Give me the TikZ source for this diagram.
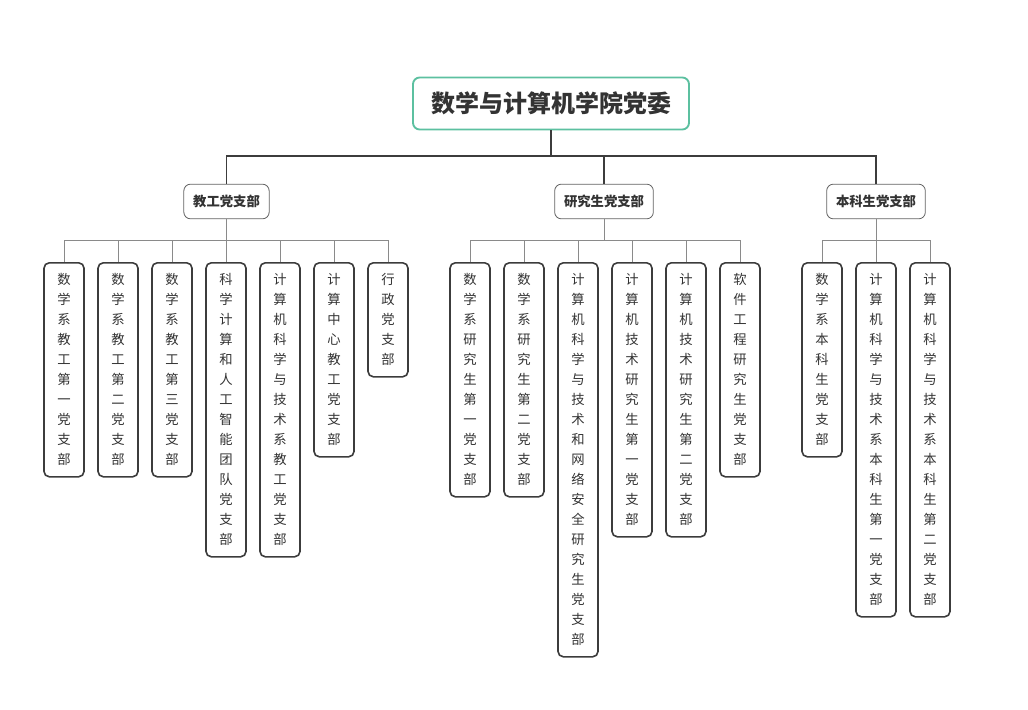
\documentclass[tikz,border=0pt]{standalone}
\usepackage{fontspec}
\newfontfamily\cjk{Noto Sans CJK SC}
\definecolor{txt}{HTML}{333333}
\definecolor{bd}{HTML}{3C3C3C}
\definecolor{grn}{HTML}{5CC0A0}
\definecolor{thin}{HTML}{8A8A8A}
\begin{document}
\begin{tikzpicture}[x=0.75pt,y=-0.75pt,
 root/.style={draw=grn,line width=1.4pt,rounded corners=5pt,fill=white,text=txt,font=\cjk\fontsize{18}{20}\selectfont\bfseries,minimum width=207pt,minimum height=39pt},
 mid/.style={draw=bd!80,line width=0.6pt,rounded corners=5pt,fill=white,text=txt,font=\cjk\fontsize{10}{12}\selectfont\bfseries,minimum height=26pt,inner xsep=7pt},
 leaf/.style={draw=bd,line width=1.2pt,rounded corners=4pt,fill=white,text=txt,font=\cjk\fontsize{10}{15}\selectfont,align=center,minimum width=30pt,inner xsep=2pt,anchor=north},
 big/.style={draw=bd,line width=1.3pt},
 sm/.style={draw=thin,line width=0.6pt}]
\useasboundingbox (0,0) rectangle (1028,710);
\node[root] (r) at (551,103.5) {数学与计算机学院党委};
\node[mid] (a) at (226.5,201.5) {教工党支部};
\node[mid] (b) at (604,201.5) {研究生党支部};
\node[mid] (c) at (876,201.5) {本科生党支部};
\coordinate (rj) at (551,156);
\draw[big] (r.south) -- (rj) (a.north) |- (rj) (c.north) |- (rj) (b.north) |- (rj);
% leaves
\newcommand\lf[4]{\node[leaf,minimum height={(#3-262)*0.75pt}] (#1) at (#2,262) {#4};}
\lf{a1}{64}{476}{数\\学\\系\\教\\工\\第\\一\\党\\支\\部}
\lf{a2}{118}{476}{数\\学\\系\\教\\工\\第\\二\\党\\支\\部}
\lf{a3}{172}{476}{数\\学\\系\\教\\工\\第\\三\\党\\支\\部}
\lf{a4}{226}{556}{科\\学\\计\\算\\和\\人\\工\\智\\能\\团\\队\\党\\支\\部}
\lf{a5}{280}{556}{计\\算\\机\\科\\学\\与\\技\\术\\系\\教\\工\\党\\支\\部}
\lf{a6}{334}{456}{计\\算\\中\\心\\教\\工\\党\\支\\部}
\lf{a7}{388}{376}{行\\政\\党\\支\\部}
\lf{b1}{470}{496}{数\\学\\系\\研\\究\\生\\第\\一\\党\\支\\部}
\lf{b2}{524}{496}{数\\学\\系\\研\\究\\生\\第\\二\\党\\支\\部}
\lf{b3}{578}{656}{计\\算\\机\\科\\学\\与\\技\\术\\和\\网\\络\\安\\全\\研\\究\\生\\党\\支\\部}
\lf{b4}{632}{536}{计\\算\\机\\技\\术\\研\\究\\生\\第\\一\\党\\支\\部}
\lf{b5}{686}{536}{计\\算\\机\\技\\术\\研\\究\\生\\第\\二\\党\\支\\部}
\lf{b6}{740}{476}{软\\件\\工\\程\\研\\究\\生\\党\\支\\部}
\lf{c1}{822}{456}{数\\学\\系\\本\\科\\生\\党\\支\\部}
\lf{c2}{876}{616}{计\\算\\机\\科\\学\\与\\技\\术\\系\\本\\科\\生\\第\\一\\党\\支\\部}
\lf{c3}{930}{616}{计\\算\\机\\科\\学\\与\\技\\术\\系\\本\\科\\生\\第\\二\\党\\支\\部}
\coordinate (aj) at (226.5,240);
\coordinate (bj) at (604,240);
\coordinate (cj) at (876,240);
\draw[sm] (a.south) -- (aj);
\foreach \n in {a1,a2,a3,a4,a5,a6,a7} \draw[sm] (\n.north) |- (aj);
\draw[sm] (b.south) -- (bj);
\foreach \n in {b1,b2,b3,b4,b5,b6} \draw[sm] (\n.north) |- (bj);
\draw[sm] (c.south) -- (cj);
\foreach \n in {c1,c2,c3} \draw[sm] (\n.north) |- (cj);
\end{tikzpicture}
\end{document}
